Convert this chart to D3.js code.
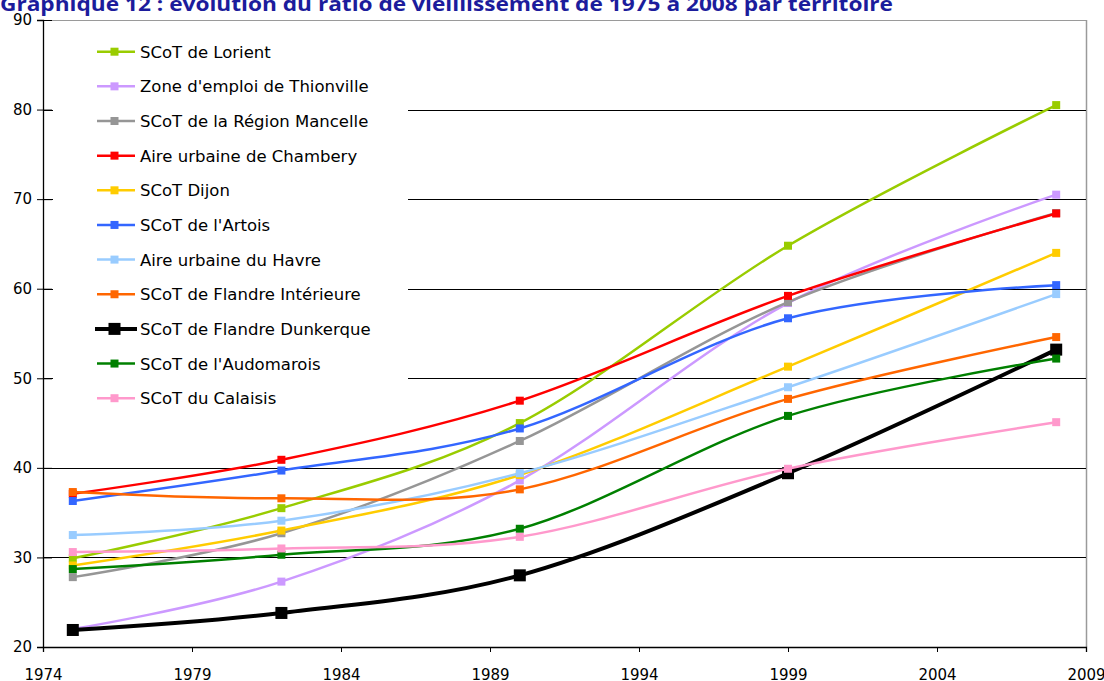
<!DOCTYPE html>
<html><head><meta charset="utf-8">
<script src="https://cdn.jsdelivr.net/npm/d3@7"></script>
<style>html,body{margin:0;padding:0;background:#fff;overflow:hidden}svg{display:block}</style>
</head><body>
<script>
const years = [1975, 1982, 1990, 1999, 2008];
const seriesNames = ["SCoT de Lorient","Zone d'emploi de Thionville","SCoT de la Région Mancelle","Aire urbaine de Chambery","SCoT Dijon","SCoT de l'Artois","Aire urbaine du Havre","SCoT de Flandre Intérieure","SCoT de Flandre Dunkerque","SCoT de l'Audomarois","SCoT du Calaisis"];
const lorient     = [29.9, 35.5, 45.0, 64.8, 80.5];
const thionville  = [22.0, 27.3, 38.6, 58.4, 70.5];
const mancelle    = [27.8, 32.7, 43.0, 58.5, 68.45];
const chambery    = [37.1, 40.9, 47.5, 59.2, 68.4];
const dijon       = [29.1, 33.0, 39.2, 51.3, 64.0];
const artois      = [36.3, 39.7, 44.4, 56.7, 60.4];
const havre       = [32.5, 34.1, 39.4, 49.0, 59.4];
const flandreInt  = [37.3, 36.6, 37.6, 47.7, 54.6];
const dunkerque   = [21.9, 23.8, 28.0, 39.4, 53.2];
const audomarois  = [28.7, 30.3, 33.2, 45.8, 52.2];
const calaisis    = [30.6, 31.0, 32.3, 39.9, 45.1];
const seriesValues = [lorient, thionville, mancelle, chambery, dijon, artois, havre, flandreInt, dunkerque, audomarois, calaisis];
const seriesColors = ["#99CC00","#CC99FF","#969696","#FF0000","#FFCC00","#3366FF","#99CCFF","#FF6600","#000000","#008000","#FF99CC"];
const yTicks = [20, 30, 40, 50, 60, 70, 80, 90];
const xTicks = [1974, 1979, 1984, 1989, 1994, 1999, 2004, 2009];
const title = "Graphique 12 : évolution du ratio de vieillissement de 1975 à 2008 par territoire";

const W = 1104, H = 681;
const svg = d3.select("body").append("svg").attr("width", W).attr("height", H);
const x = d3.scaleLinear().domain([1974, 2009]).range([43, 1086]);
const y = d3.scaleLinear().domain([20, 90]).range([647, 20]);
const font = "DejaVu Sans, Tahoma, sans-serif";

// title
svg.append("text").attr("x", 0).attr("y", 11)
  .attr("font-family", "Open Sans, sans-serif").attr("font-weight", "bold")
  .attr("font-size", 19).attr("fill", "#1C1C9C")
  .attr("textLength", 893).attr("lengthAdjust", "spacingAndGlyphs")
  .text(title);

// plot border top & right
svg.append("line").attr("x1", x(1974)).attr("x2", x(2009)).attr("y1", y(90)+0.5).attr("y2", y(90)+0.5)
  .attr("stroke", "#9a9a9a").attr("stroke-width", 1);
svg.append("line").attr("x1", x(2009)+0.5).attr("x2", x(2009)+0.5).attr("y1", y(90)).attr("y2", y(20))
  .attr("stroke", "#9a9a9a").attr("stroke-width", 1.5);

// gridlines
svg.append("g").selectAll("line").data(yTicks.filter(d => d > 20 && d < 90)).join("line")
  .attr("x1", x(1974)).attr("x2", x(2009))
  .attr("y1", d => Math.round(y(d)) + 0.5).attr("y2", d => Math.round(y(d)) + 0.5)
  .attr("stroke", "#000").attr("stroke-width", 1);

// y axis
const yAxis = d3.axisLeft(y).tickValues(yTicks).tickSize(6).tickPadding(6).tickFormat(d3.format("d"));
const gy = svg.append("g").attr("transform", `translate(${x(1974)},0)`).call(yAxis);
gy.select(".domain").attr("stroke", "#000").attr("stroke-width", 1.3);
gy.selectAll(".tick line").attr("x1", -6).attr("x2", 9).attr("stroke", "#000");
gy.selectAll(".tick text").attr("font-family", font).attr("font-size", 15).attr("fill", "#000").attr("x", -11);

// x axis
const xAxis = d3.axisBottom(x).tickValues(xTicks).tickSize(5).tickPadding(17).tickFormat(d3.format("d"));
const gx = svg.append("g").attr("transform", `translate(0,${y(20)})`).call(xAxis);
gx.select(".domain").attr("stroke", "#000").attr("stroke-width", 1.3);
gx.selectAll(".tick line").attr("stroke", "#000");
gx.selectAll(".tick text").attr("font-family", font).attr("font-size", 15).attr("fill", "#000");

// legend background
const legendX = 53, legendY = 23;
svg.append("rect").attr("x", legendX).attr("y", legendY).attr("width", 355).attr("height", 392).attr("fill", "#fff");

// series
const line = d3.line().x((d, i) => x(years[i])).y(d => y(d)).curve(d3.curveCatmullRom.alpha(0));
seriesValues.forEach((vals, si) => {
  const bold = seriesNames[si] === "SCoT de Flandre Dunkerque";
  const g = svg.append("g");
  g.append("path").datum(vals).attr("d", line).attr("fill", "none")
    .attr("stroke", seriesColors[si]).attr("stroke-width", bold ? 4 : 2.5);
  const s = bold ? 12 : 8;
  g.selectAll("rect").data(vals).join("rect")
    .attr("x", (d, i) => x(years[i]) - s/2).attr("y", d => y(d) - s/2)
    .attr("width", s).attr("height", s).attr("fill", seriesColors[si]);
});

// legend
const leg = svg.append("g");
seriesNames.forEach((name, i) => {
  const cy = 51.7 + i * 34.65;
  const bold = name === "SCoT de Flandre Dunkerque";
  leg.append("line").attr("x1", bold ? 95 : 97).attr("x2", bold ? 137 : 135).attr("y1", cy).attr("y2", cy)
    .attr("stroke", seriesColors[i]).attr("stroke-width", bold ? 4 : 2.5);
  const s = bold ? 12 : 8;
  leg.append("rect").attr("x", 114.5 - s/2).attr("y", cy - s/2).attr("width", s).attr("height", s).attr("fill", seriesColors[i]);
  leg.append("text").attr("x", 140).attr("y", cy + 6).attr("font-family", font).attr("font-size", 16.5)
    .attr("fill", "#000").text(name);
});
</script>
</body></html>
